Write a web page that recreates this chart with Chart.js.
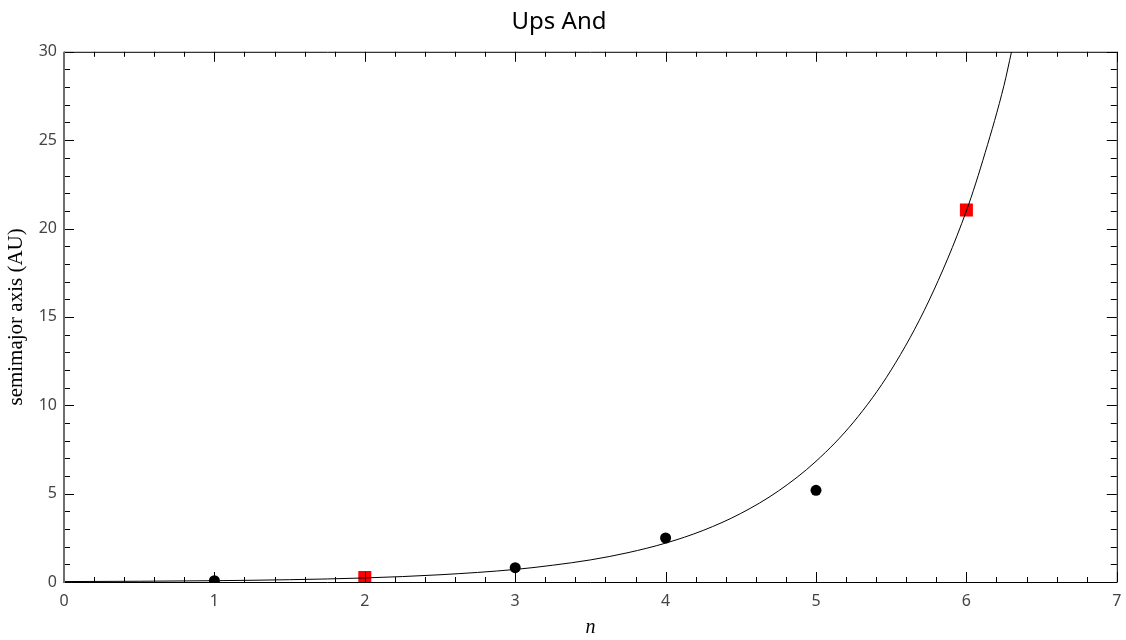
<!DOCTYPE html>
<html>
<head>
<meta charset="utf-8">
<script src="https://cdn.jsdelivr.net/npm/chart.js@4"></script>
<style>
  html, body { margin: 0; padding: 0; background: #fff; }
  #wrap { width: 1126px; height: 640px; }
</style>
</head>
<body>
<div id="wrap"><canvas id="upsChart"></canvas></div>
<script>
// planets (black dots)
const planetN = [1, 3, 4, 5];
const planetA = [0.07, 0.81, 2.49, 5.19];
// predicted slots (red squares)
const predN = [2, 6];
const predA = [0.26, 21.05];
// fitted curve
const fitN = [0, 0.5, 1, 1.5, 2, 2.5, 3, 3.25, 3.5, 3.75, 4, 4.25, 4.5, 4.75, 5, 5.25, 5.5, 5.75, 6, 6.125, 6.25, 6.3];
const fitA = [0.024, 0.042, 0.074, 0.13, 0.23, 0.41, 0.71, 0.95, 1.25, 1.66, 2.2, 2.92, 3.88, 5.15, 6.83, 9.05, 12.0, 15.9, 21.0, 24.3, 28.1, 30.0];

const xMajor = [0, 1, 2, 3, 4, 5, 6, 7];
const yMajor = [0, 5, 10, 15, 20, 25, 30];

function toPoints(xs, ys) {
  return xs.map((x, i) => ({ x: x, y: ys[i] }));
}

// inward ticks on all four sides, like the original frame
const frameTicks = {
  id: "frameTicks",
  afterDatasetsDraw(chart) {
    const ctx = chart.ctx;
    const a = chart.chartArea;
    const xs = chart.scales.x;
    const ys = chart.scales.y;
    ctx.save();
    ctx.strokeStyle = "#000";
    ctx.lineWidth = 1;
    ctx.beginPath();
    for (let i = 0; i <= 35; i++) {
      const v = i / 5;
      const px = Math.round(xs.getPixelForValue(v)) + 0.5;
      const len = i % 5 === 0 ? 10 : 5;
      ctx.moveTo(px, a.bottom);
      ctx.lineTo(px, a.bottom - len);
      ctx.moveTo(px, a.top);
      ctx.lineTo(px, a.top + len);
    }
    for (let i = 0; i <= 30; i++) {
      const py = Math.round(ys.getPixelForValue(i)) + 0.5;
      const len = i % 5 === 0 ? 10 : 6;
      ctx.moveTo(a.left, py);
      ctx.lineTo(a.left + len, py);
      ctx.moveTo(a.right, py);
      ctx.lineTo(a.right - len, py);
    }
    ctx.stroke();
    // frame
    ctx.beginPath();
    ctx.moveTo(a.left, a.top + 0.5);
    ctx.lineTo(a.right + 0.5, a.top + 0.5);
    ctx.lineTo(a.right + 0.5, a.bottom + 0.5);
    ctx.lineTo(a.left, a.bottom + 0.5);
    ctx.stroke();
    ctx.strokeStyle = "#6f6f6f";
    ctx.lineWidth = 2;
    ctx.beginPath();
    ctx.moveTo(a.left, a.top);
    ctx.lineTo(a.left, a.bottom + 1);
    ctx.stroke();
    ctx.restore();
  },
};

new Chart(document.getElementById("upsChart"), {
  type: "scatter",
  data: {
    datasets: [
      {
        label: "fit",
        data: toPoints(fitN, fitA),
        showLine: true,
        borderColor: "#000",
        borderWidth: 1,
        pointRadius: 0,
        cubicInterpolationMode: "monotone",
        clip: 0,
      },
      {
        label: "planets",
        data: toPoints(planetN, planetA),
        backgroundColor: "#000",
        borderColor: "#000",
        borderWidth: 0,
        pointRadius: 5.5,
        clip: 0,
      },
      {
        label: "predicted",
        data: toPoints(predN, predA),
        pointStyle: "rect",
        backgroundColor: "#ff0000",
        borderColor: "#ff0000",
        borderWidth: 0,
        pointRadius: 9.2,
        clip: 0,
      },
    ],
  },
  options: {
    responsive: true,
    maintainAspectRatio: false,
    animation: false,
    layout: { padding: { top: 0, right: 8, left: 0, bottom: 0 } },
    plugins: {
      legend: { display: false },
      tooltip: { enabled: false },
      title: {
        display: true,
        text: "Ups And",
        color: "#000",
        font: { family: "Noto Sans", size: 24, weight: "normal" },
        padding: { top: 8, bottom: 15 },
      },
    },
    scales: {
      x: {
        type: "linear",
        min: 0,
        max: 7,
        afterBuildTicks: (s) => { s.ticks = xMajor.map((v) => ({ value: v })); },
        grid: { display: false, drawTicks: false },
        border: { display: false },
        ticks: {
          color: "#444",
          padding: 10,
          font: { family: "Noto Sans", size: 16 },
        },
        title: {
          display: true,
          text: "n",
          color: "#000",
          font: { family: "Liberation Serif", size: 20, style: "italic" },
          padding: { top: 0, bottom: 0 },
        },
        afterFit: (s) => {
          s.height = 58;
          s.paddingLeft = 0;
          s.paddingRight = 0;
        },
      },
      y: {
        type: "linear",
        min: 0,
        max: 30,
        afterBuildTicks: (s) => { s.ticks = yMajor.map((v) => ({ value: v })); },
        grid: { display: false, drawTicks: false },
        border: { display: false },
        ticks: {
          color: "#444",
          padding: 7,
          font: { family: "Noto Sans", size: 16 },
        },
        title: {
          display: true,
          text: "semimajor axis (AU)",
          color: "#000",
          font: { family: "Liberation Serif", size: 21 },
          padding: { top: 4, bottom: 0 },
        },
        afterFit: (s) => {
          s.width = 64;
          s.paddingTop = 0;
          s.paddingBottom = 0;
        },
      },
    },
  },
  plugins: [frameTicks],
});
</script>
</body>
</html>
